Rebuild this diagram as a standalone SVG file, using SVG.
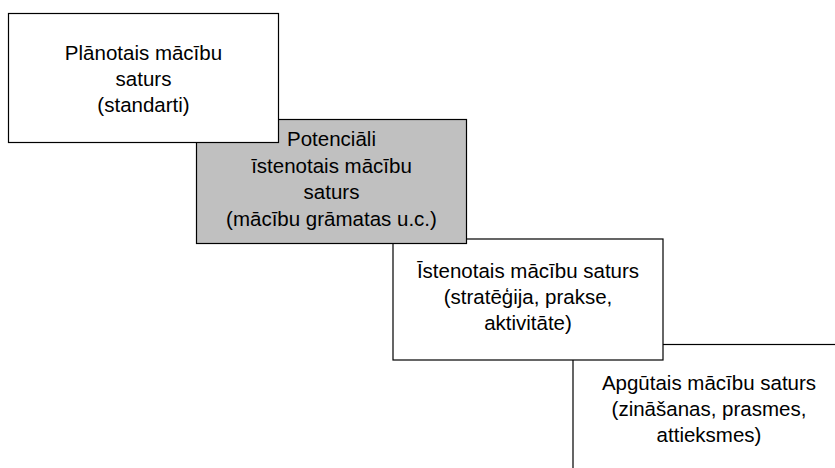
<svg xmlns="http://www.w3.org/2000/svg" width="835" height="468" viewBox="0 0 835 468">
<style>
.box{fill:#fff;stroke:#000;stroke-width:1.2}
.gray{fill:#c0c0c0;stroke:#000;stroke-width:1.2}
text{font-family:"Liberation Sans",Arial,sans-serif;font-size:20.5px;fill:#000;text-anchor:middle}
</style>
<rect width="835" height="468" fill="#fff"/>
<g id="connectors"></g>
<g id="node4">
<rect class="box" x="573" y="344.5" width="300" height="160"/>
<text x="709" y="390">Apgūtais mācību saturs</text>
<text x="709" y="416">(zināšanas, prasmes,</text>
<text x="709" y="442">attieksmes)</text>
</g>
<g id="node3">
<rect class="box" x="393" y="239" width="270" height="121"/>
<text x="528" y="278">Īstenotais mācību saturs</text>
<text x="528" y="304">(stratēģija, prakse,</text>
<text x="528" y="330">aktivitāte)</text>
</g>
<g id="node2">
<rect class="gray" x="196.5" y="119.5" width="270" height="124"/>
<text x="331.5" y="146">Potenciāli</text>
<text x="331.5" y="173">īstenotais mācību</text>
<text x="331.5" y="199">saturs</text>
<text x="331.5" y="226">(mācību grāmatas u.c.)</text>
</g>
<g id="node1">
<rect class="box" x="8.5" y="13.5" width="270" height="129"/>
<text x="143.5" y="60">Plānotais mācību</text>
<text x="143.5" y="86">saturs</text>
<text x="143.5" y="112">(standarti)</text>
</g>
</svg>
